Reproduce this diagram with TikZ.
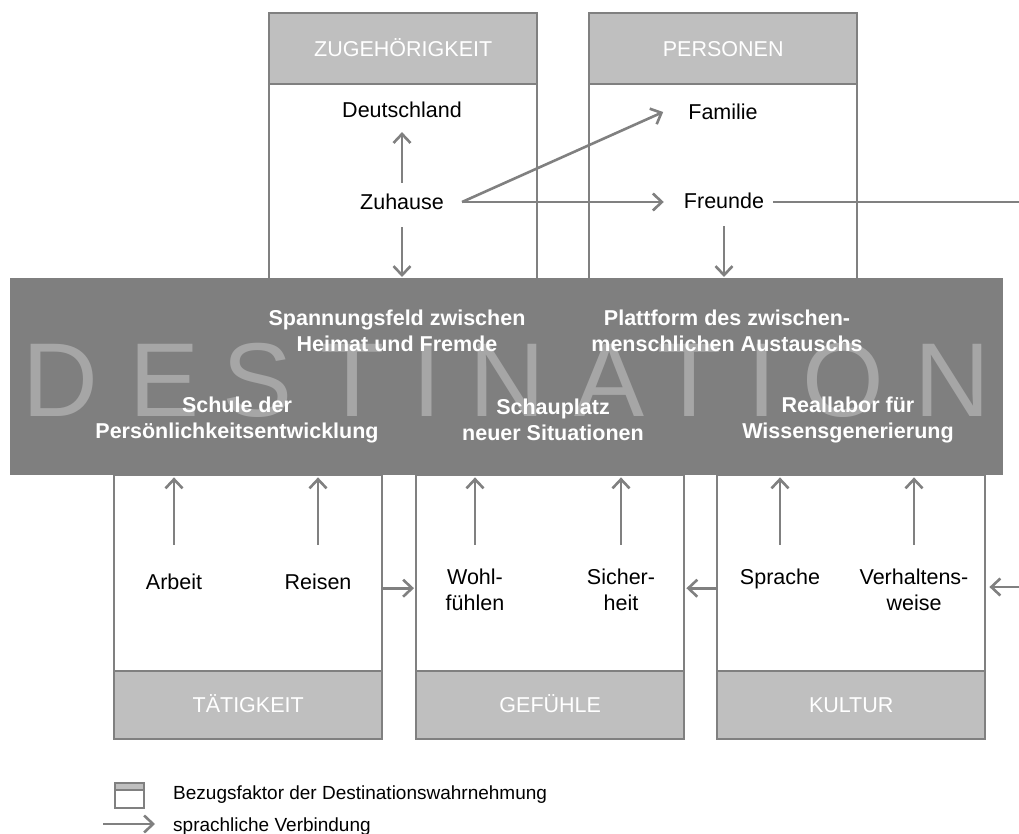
\documentclass[tikz,border=0pt]{standalone}
\usepackage{fontspec}
\setmainfont{Liberation Sans}
\usetikzlibrary{arrows.meta}
\definecolor{linegray}{HTML}{808080}
\definecolor{headgray}{HTML}{BFBFBF}
\definecolor{boxgray}{HTML}{7F7F7F}
\definecolor{markgray}{HTML}{A6A6A6}
\newcommand{\bodyfont}{\fontsize{21.5}{26}\selectfont}
\newcommand{\legendfont}{\fontsize{19}{23}\selectfont}
\newcommand{\markfont}{\fontsize{105}{105}\selectfont}

\begin{document}
\begin{tikzpicture}[x=1pt, y=-1pt,
  boxframe/.style={draw=linegray, line width=2.4pt, fill=white, anchor=north west,
    inner sep=0pt, minimum width=268pt},
  boxhead/.style={boxframe, fill=headgray, text=white, font=\bodyfont,
    text height=15.4pt, text depth=0pt},
  word/.style={font=\bodyfont, align=center, inner sep=0pt},
  theme/.style={font=\bodyfont\bfseries, text=white, align=center, inner sep=0pt},
  glyph/.style={font=\markfont, text=markgray, anchor=base, inner sep=0pt},
  legendtext/.style={font=\legendfont, anchor=west, inner sep=0pt},
  arrowline/.style={draw=linegray, line width=2.6pt, -{Straight Barb[length=9pt,width=17pt]}},
  plainline/.style={draw=linegray, line width=2.6pt},
]
\useasboundingbox (0,0) rectangle (1019,834);

% reference factors above the destination
\node[boxframe, minimum height=266pt] (zugb) at (268,12) {};
\node[boxhead, minimum height=71pt] (zugh) at (268,12) {ZUGEHÖRIGKEIT};
\node[boxframe, minimum height=266pt] (perb) at (588,12) {};
\node[boxhead, minimum height=71pt] (perh) at (588,12) {PERSONEN};

% reference factors below the destination
\node[boxframe, minimum height=264pt] (tatb) at (113,474) {};
\node[boxhead, minimum height=68pt] (tath) at (113,670) {TÄTIGKEIT};
\node[boxframe, minimum height=264pt] (gefb) at (415,474) {};
\node[boxhead, minimum height=68pt] (gefh) at (415,670) {GEFÜHLE};
\node[boxframe, minimum height=264pt] (kulb) at (716,474) {};
\node[boxhead, minimum height=68pt] (kulh) at (716,670) {KULTUR};

% the destination band
\node[fill=boxgray, anchor=north west, inner sep=0pt, minimum width=993pt,
  minimum height=197pt] (dest) at (10,278) {};
\node[glyph] (g1) at (60,416) {D};
\node[glyph] (g2) at (165,416) {E};
\node[glyph] (g3) at (258,416) {S};
\node[glyph] (g4) at (353,416) {T};
\node[glyph] (g5) at (427,416) {I};
\node[glyph] (g6) at (507,416) {N};
\node[glyph] (g7) at (610,416) {A};
\node[glyph] (g8) at (690,416) {T};
\node[glyph] (g9) at (762,416) {I};
\node[glyph] (g10) at (843,416) {O};
\node[glyph] (g11) at (952,416) {N};

\node[theme] (spa) at (397,331) {Spannungsfeld zwischen\\Heimat und Fremde};
\node[theme] (pla) at (727,331) {Plattform des zwischen-\\menschlichen Austauschs};
\node[theme] (sch) at (237,420) {Schule der\\Persönlichkeitsentwicklung};
\node[theme] (sca) at (553,420) {Schauplatz\\neuer Situationen};
\node[theme] (rea) at (848,420) {Reallabor für\\Wissensgenerierung};

% upper terms
\node[word] (deu) at (402,110) {Deutschland};
\node[word] (zuh) at (402,202) {Zuhause};
\node[word] (fam) at (723,112) {Familie};
\node[word] (fre) at (724,201) {Freunde};
\coordinate (edgeA) at (1019,202);

\draw[arrowline, shorten <=11pt, shorten >=14pt] (zuh.north) -- (deu.south);
\draw[arrowline, shorten <=17pt, shorten >=1pt] (zuh.south) -- (zuh.south |- dest.north);
\draw[arrowline] ([xshift=18pt]zuh.east) -- ([xshift=-25pt]fam.west);
\draw[arrowline] ([xshift=18pt]zuh.east) -- ([xshift=-20pt]zuh.east -| fre.west);
\draw[plainline] ([xshift=9pt]zuh.east -| fre.east) -- (edgeA);
\draw[arrowline, shorten <=17pt, shorten >=1pt] (fre.south) -- (fre.south |- dest.north);

% lower terms
\node[word] (arb) at (174,582) {Arbeit};
\node[word] (rei) at (318,582) {Reisen};
\node[word] (woh) at (475,590) {Wohl-\\fühlen};
\node[word] (sic) at (621,590) {Sicher-\\heit};
\node[word] (spr) at (780,579) {Sprache};
\node[word] (ver) at (914,590) {Verhaltens-\\weise};
\coordinate (edgeB) at (1019,587);

\draw[arrowline, shorten <=29pt, shorten >=2pt] (arb.north) -- (arb.north |- dest.south);
\draw[arrowline, shorten <=29pt, shorten >=2pt] (rei.north) -- (rei.north |- dest.south);
\draw[arrowline, shorten <=24pt, shorten >=2pt] (woh.north) -- (woh.north |- dest.south);
\draw[arrowline, shorten <=24pt, shorten >=2pt] (sic.north) -- (sic.north |- dest.south);
\draw[arrowline, shorten <=24pt, shorten >=2pt] (spr.north) -- (spr.north |- dest.south);
\draw[arrowline, shorten <=24pt, shorten >=2pt] (ver.north) -- (ver.north |- dest.south);

\draw[arrowline, shorten >=1pt] ([yshift=19pt]tatb.east) -- ([yshift=19pt]gefb.west);
\draw[arrowline, shorten >=1pt] ([yshift=19pt]kulb.west) -- ([yshift=19pt]gefb.east);
\draw[arrowline, shorten >=3pt] (edgeB) -- (edgeB -| kulb.east);

% legend
\node[draw=linegray, line width=2pt, fill=white, anchor=north west, inner sep=0pt,
  minimum width=29pt, minimum height=25pt] (icon) at (114,782) {};
\node[draw=linegray, line width=2pt, fill=headgray, anchor=north west, inner sep=0pt,
  minimum width=29pt, minimum height=7pt] (iconh) at (114,782) {};
\node[legendtext] (leg1) at (173,795) {Bezugsfaktor der Destinationswahrnehmung};
\node[legendtext] (leg2) at (173,827) {sprachliche Verbindung};
\draw[arrowline] ([xshift=-70pt,yshift=3pt]leg2.west) -- ([xshift=-18pt,yshift=3pt]leg2.west);
\end{tikzpicture}
\end{document}
